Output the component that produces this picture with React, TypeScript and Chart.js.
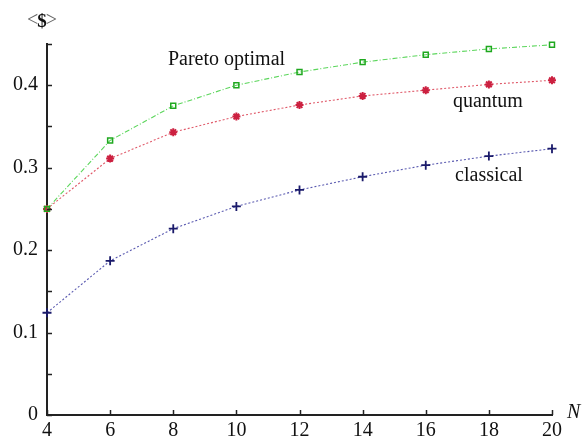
import React, { useEffect, useRef } from 'react';
import { Chart, registerables } from 'chart.js';

Chart.register(...registerables);

const N = [4, 6, 8, 10, 12, 14, 16, 18, 20];
const paretoOptimal = [0.25, 0.333, 0.375, 0.4, 0.416, 0.428, 0.437, 0.444, 0.449];
const quantum = [0.25, 0.311, 0.343, 0.362, 0.376, 0.387, 0.394, 0.401, 0.406];
const classical = [0.124, 0.187, 0.226, 0.253, 0.273, 0.289, 0.303, 0.314, 0.323];

const seriesNames = ['Pareto optimal', 'quantum', 'classical'];
const yAxisTitleParts = ['<', '$', '>'];
const xAxisTitle = 'N';

const FONT = '"Liberation Serif", "Times New Roman", serif';

export default function App() {
  const ref = useRef<HTMLCanvasElement>(null);

  useEffect(() => {
    document.body.style.margin = '0';
    const canvas = ref.current;
    if (!canvas) return;

    const decor = {
      id: 'decor',
      afterDraw(chart: any) {
        const { ctx, chartArea, scales } = chart;
        const xs = scales.x;
        const ys = scales.y;
        ctx.save();
        ctx.strokeStyle = '#222';
        ctx.lineWidth = 1.5;
        xs.ticks.forEach((t: any) => {
          const px = Math.round(xs.getPixelForValue(t.value)) + 0.5;
          ctx.beginPath();
          ctx.moveTo(px, chartArea.bottom);
          ctx.lineTo(px, chartArea.bottom - 5);
          ctx.stroke();
        });
        ys.ticks.forEach((t: any) => {
          const py = Math.round(ys.getPixelForValue(t.value)) + 0.5;
          ctx.beginPath();
          ctx.moveTo(chartArea.left, py);
          ctx.lineTo(chartArea.left + 5, py);
          ctx.stroke();
        });

        ctx.fillStyle = '#111';
        ctx.font = `20px ${FONT}`;
        ctx.textAlign = 'left';
        ctx.textBaseline = 'alphabetic';
        ctx.fillText(seriesNames[0], xs.getPixelForValue(7.83), ys.getPixelForValue(0.425));
        ctx.fillText(seriesNames[1], xs.getPixelForValue(16.86), ys.getPixelForValue(0.374));
        ctx.fillText(seriesNames[2], xs.getPixelForValue(16.93), ys.getPixelForValue(0.284));

        ctx.font = `italic 20px ${FONT}`;
        ctx.fillText(xAxisTitle, chartArea.right + 15, chartArea.bottom + 3);

        // y-axis title  <$>
        ctx.textBaseline = 'middle';
        ctx.textAlign = 'left';
        let cx = 27;
        const cy = 21;
        ctx.font = `20px ${FONT}`;
        ctx.fillStyle = '#666';
        ctx.fillText(yAxisTitleParts[0], cx, cy);
        cx += ctx.measureText(yAxisTitleParts[0]).width - 1;
        ctx.font = `bold 19px ${FONT}`;
        ctx.fillStyle = '#111';
        ctx.fillText(yAxisTitleParts[1], cx, cy + 1);
        cx += ctx.measureText(yAxisTitleParts[1]).width - 1;
        ctx.font = `20px ${FONT}`;
        ctx.fillStyle = '#666';
        ctx.fillText(yAxisTitleParts[2], cx, cy);
        ctx.restore();
      },
    };

    const toPoints = (vals: number[]) => N.map((n, i) => ({ x: n, y: vals[i] }));

    const chart = new Chart(canvas, {
      type: 'line',
      data: {
        datasets: [
          {
            label: seriesNames[0],
            data: toPoints(paretoOptimal),
            borderColor: '#5cd65c',
            borderWidth: 1.1,
            borderDash: [5, 2, 1, 2],
            pointStyle: 'rect',
            pointRadius: 3.5,
            pointBorderColor: '#1fa81f',
            pointBackgroundColor: 'rgba(255,255,255,0)',
            pointBorderWidth: 1.5,
            tension: 0,
            clip: false,
          },
          {
            label: seriesNames[1],
            data: toPoints(quantum),
            borderColor: '#e05a6a',
            borderWidth: 1.1,
            borderDash: [2, 2],
            pointStyle: 'star',
            pointRadius: 4,
            pointBorderColor: '#cc2040',
            pointBackgroundColor: '#cc2040',
            pointBorderWidth: 2,
            tension: 0,
            clip: false,
          },
          {
            label: seriesNames[2],
            data: toPoints(classical),
            borderColor: '#5a5ab0',
            borderWidth: 1.1,
            borderDash: [2, 2],
            pointStyle: 'cross',
            pointRadius: 4.5,
            pointBorderColor: '#1a1a6a',
            pointBorderWidth: 1.8,
            tension: 0,
            clip: false,
          },
        ],
      },
      options: {
        responsive: false,
        animation: false,
        events: [],
        layout: { padding: { top: 44, right: 32, left: 0, bottom: 0 } },
        plugins: { legend: { display: false }, tooltip: { enabled: false } },
        scales: {
          x: {
            type: 'linear',
            min: 4,
            max: 20,
            afterFit: (s: any) => { s.height = 28; },
            grid: { display: false, drawTicks: false, tickLength: 0 },
            border: { display: true, color: '#222', width: 2 },
            ticks: {
              stepSize: 2,
              padding: 4,
              color: '#111',
              font: { family: FONT, size: 20 },
              maxRotation: 0,
              autoSkip: false,
            },
          },
          y: {
            type: 'linear',
            min: 0,
            max: 0.45,
            afterFit: (s: any) => { s.width = 47; },
            grid: { display: false, drawTicks: false, tickLength: 0 },
            border: { display: true, color: '#222', width: 2 },
            ticks: {
              stepSize: 0.05,
              padding: 9,
              color: '#111',
              font: { family: FONT, size: 20 },
              autoSkip: false,
              callback: (v: any) => {
                const t = Number(v) * 10;
                if (Math.abs(t - Math.round(t)) < 1e-6 && Number(v) < 0.42) {
                  return String(Number(Number(v).toFixed(1)));
                }
                return '';
              },
            },
          },
        },
      },
      plugins: [decor],
    });

    return () => chart.destroy();
  }, []);

  return <canvas ref={ref} width={584} height={443} style={{ display: 'block' }} />;
}
